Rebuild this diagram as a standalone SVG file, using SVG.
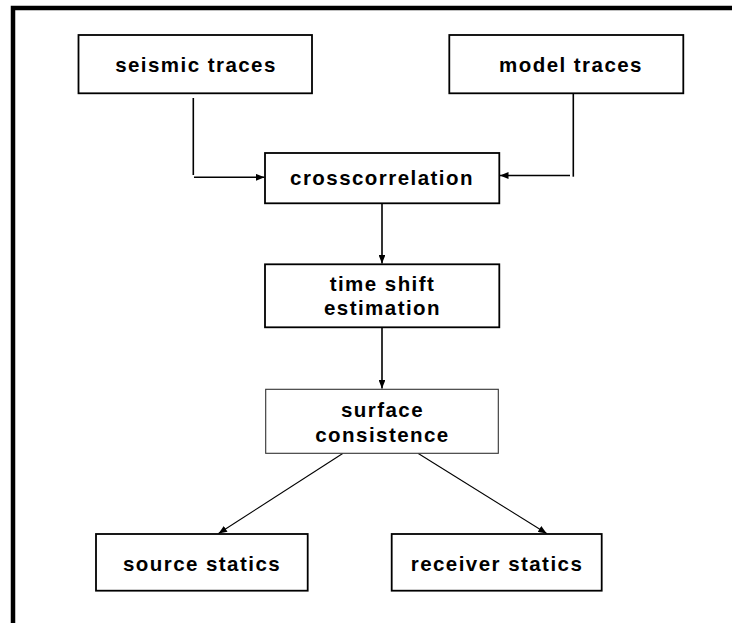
<svg xmlns="http://www.w3.org/2000/svg" width="732" height="623" viewBox="0 0 732 623">
<style>
.box{fill:#fff;stroke:#000;stroke-width:1.8}
.thin{fill:#fff;stroke:#333;stroke-width:1.1}
.lbl{font-family:"Liberation Sans",Arial,sans-serif;font-weight:bold;font-size:20.5px;letter-spacing:1.45px;fill:#000;text-anchor:middle}
.c{fill:none;stroke:#000;stroke-width:1.6}
.d{fill:none;stroke:#000;stroke-width:1.1}
</style>
<defs>
<marker id="ah" viewBox="0 0 10 8" refX="10" refY="4" markerWidth="9" markerHeight="6.8" markerUnits="userSpaceOnUse" orient="auto">
<path d="M0,0 L10,4 L0,8 Z" fill="#000"/>
</marker>
</defs>
<rect width="732" height="623" fill="#fff"/>
<path d="M13,623 V8 H732" fill="none" stroke="#000" stroke-width="4.5"/>
<g id="connectors">
<path class="c" d="M193.3,98 V175"/>
<path class="c" d="M194,177.3 H264.5" marker-end="url(#ah)"/>
<path class="c" d="M573.3,93.5 V176.7"/>
<path class="c" d="M570,175.5 H500" marker-end="url(#ah)"/>
<path class="c" d="M382,204 V263.5" marker-end="url(#ah)"/>
<path class="c" d="M382,328 V388.5" marker-end="url(#ah)"/>
<path class="d" d="M342.7,453.5 L218.5,533.5" marker-end="url(#ah)"/>
<path class="d" d="M418.3,453.5 L546.7,533.5" marker-end="url(#ah)"/>
</g>
<g id="seismic-traces">
<rect class="box" x="78.5" y="35" width="233.5" height="58.3"/>
<text class="lbl" x="196" y="72">seismic traces</text>
</g>
<g id="model-traces">
<rect class="box" x="449.3" y="35" width="234" height="58.3"/>
<text class="lbl" x="571" y="72">model traces</text>
</g>
<g id="crosscorrelation">
<rect class="box" x="265" y="153" width="234.3" height="50.3"/>
<text class="lbl" x="382" y="185">crosscorrelation</text>
</g>
<g id="time-shift-estimation">
<rect class="box" x="265" y="264.3" width="234.3" height="63"/>
<text class="lbl" x="382.5" y="290.5">time shift</text>
<text class="lbl" x="382.5" y="314.5">estimation</text>
</g>
<g id="surface-consistence">
<rect class="thin" x="265.7" y="389.3" width="232.6" height="64"/>
<text class="lbl" x="382.5" y="417">surface</text>
<text class="lbl" x="382.5" y="441.5">consistence</text>
</g>
<g id="source-statics">
<rect class="box" x="96" y="534" width="211.7" height="56.7"/>
<text class="lbl" x="202" y="570.5">source statics</text>
</g>
<g id="receiver-statics">
<rect class="box" x="391.7" y="534" width="210" height="56.7"/>
<text class="lbl" x="497" y="570.5">receiver statics</text>
</g>
</svg>
